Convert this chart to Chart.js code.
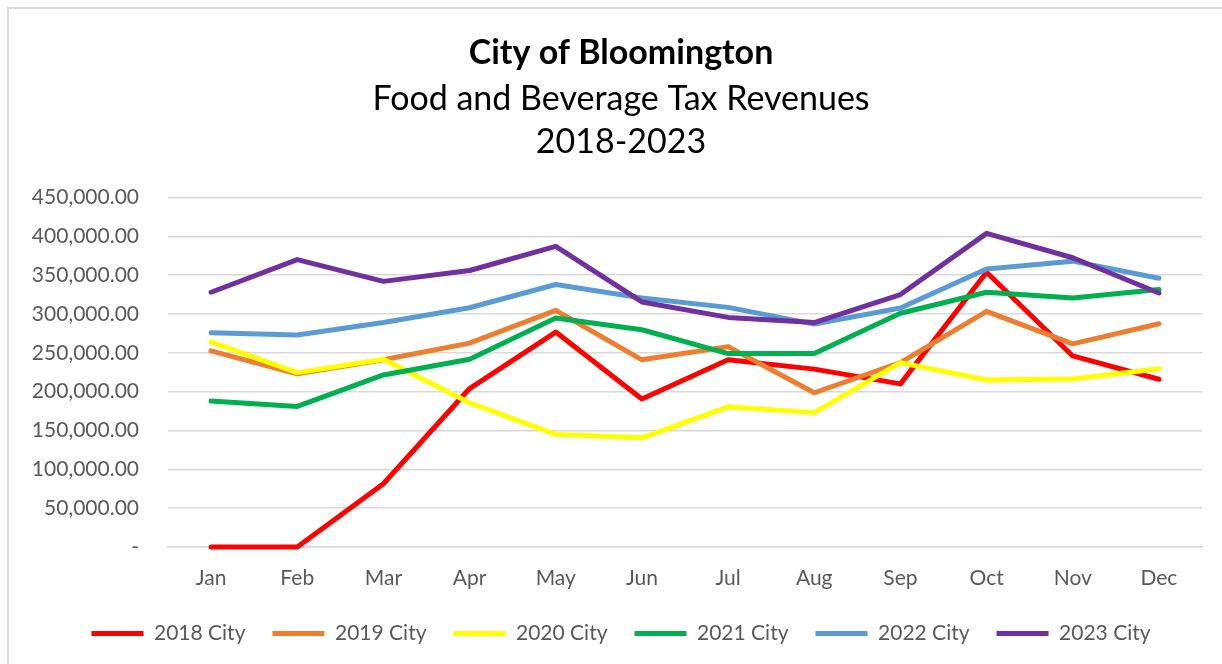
<!DOCTYPE html>
<html>
<head>
<meta charset="utf-8">
<script src="https://cdn.jsdelivr.net/npm/chart.js@4/dist/chart.umd.min.js"></script>
<style>
  html, body { margin: 0; padding: 0; background: #fff; overflow: hidden; }
  #wrap { position: relative; width: 1222px; height: 664px; }
  #frame { position: absolute; left: 7px; top: 7px; width: 1240px; height: 700px; border: 2px solid #d9d9d9; box-sizing: border-box; }
  canvas { position: absolute; left: 0; top: 0; }
</style>
</head>
<body>
<div id="wrap">
  <div id="frame"></div>
  <canvas id="c" width="1222" height="664"></canvas>
</div>
<script>
const months = ["Jan","Feb","Mar","Apr","May","Jun","Jul","Aug","Sep","Oct","Nov","Dec"];
const city2018 = [0, 0, 81500, 204000, 276700, 190500, 241000, 229000, 210000, 353800, 246000, 216000];
const city2019 = [252500, 223000, 241000, 262500, 304700, 241000, 258000, 198600, 237400, 303400, 261600, 287400];
const city2020 = [264000, 224500, 241800, 185700, 145000, 140500, 180500, 173000, 237400, 215000, 216300, 229600];
const city2021 = [188000, 181000, 221500, 241800, 294800, 279700, 249000, 249000, 301000, 328000, 320700, 331400];
const city2022 = [276000, 273000, 289000, 308000, 338000, 320700, 308500, 287000, 307700, 358000, 368000, 346000];
const city2023 = [328000, 370000, 342000, 356000, 387000, 315500, 295600, 289000, 325000, 403800, 372400, 327000];
const seriesNames = ["2018 City","2019 City","2020 City","2021 City","2022 City","2023 City"];
const seriesColors = ["#FF0000","#ED7D31","#FFFF00","#00B050","#5B9BD5","#7030A0"];
const titleLines = ["City of Bloomington"];
const subtitleLines = ["Food and Beverage Tax Revenues","2018-2023"];

const FONT = "Lato, 'Open Sans', sans-serif";
const seriesData = [city2018, city2019, city2020, city2021, city2022, city2023];

const datasets = seriesData.map((d, i) => ({
  label: seriesNames[i],
  data: d,
  borderColor: seriesColors[i],
  backgroundColor: seriesColors[i],
  borderWidth: 5,
  borderCapStyle: 'round',
  borderJoinStyle: 'round',
  pointRadius: 0,
  pointHoverRadius: 0,
  tension: 0,
  fill: false,
  clip: 8,
  order: seriesData.length - 1 - i,
  pointStyle: 'line'
}));

// Shift title, subtitle and legend boxes to the right (the original chart frame is wider than the view)
const shiftBoxes = {
  id: 'shiftBoxes',
  afterLayout(chart) {
    chart.boxes.forEach(b => {
      if (!b.axis && (b.position === 'top' || b.position === 'bottom')) {
        b.left += 20; b.right += 20;
      }
    });
  }
};

new Chart(document.getElementById('c'), {
  type: 'line',
  data: { labels: months, datasets },
  plugins: [shiftBoxes],
  options: {
    responsive: false,
    animation: false,
    layout: { padding: { left: 0, right: 20, top: 33, bottom: 10 } },
    plugins: {
      title: {
        display: true,
        text: titleLines,
        color: '#000',
        font: { family: FONT, size: 34, weight: 'bold', lineHeight: 1.2 },
        padding: { top: 0, bottom: 4 }
      },
      subtitle: {
        display: true,
        text: subtitleLines,
        color: '#000',
        font: { family: FONT, size: 34, weight: 'normal', lineHeight: 1.26 },
        padding: { top: 0, bottom: 34 }
      },
      legend: {
        position: 'bottom',
        labels: {
          usePointStyle: true,
          pointStyleWidth: 52,
          color: '#595959',
          font: { family: FONT, size: 21 },
          padding: 27,
          boxHeight: 21,
          sort: (a, b) => a.datasetIndex - b.datasetIndex
        }
      },
      tooltip: { enabled: false }
    },
    scales: {
      x: {
        offset: true,
        afterFit: (s) => { s.height = 49; },
        grid: { display: false, drawTicks: false },
        border: { display: true, color: '#d9d9d9', width: 1.5 },
        ticks: { color: '#595959', font: { family: FONT, size: 21 }, padding: 19 }
      },
      y: {
        min: 0, max: 450000,
        afterFit: (s) => { s.width = 168; },
        grid: { color: '#d9d9d9', lineWidth: 1.5, drawTicks: false },
        border: { display: false },
        ticks: {
          stepSize: 50000,
          padding: 29,
          color: '#595959',
          font: { family: FONT, size: 21 },
          callback: (v) => v === 0 ? '-' : v.toLocaleString('en-US', { minimumFractionDigits: 2, maximumFractionDigits: 2 })
        }
      }
    }
  }
});
</script>
</body>
</html>
